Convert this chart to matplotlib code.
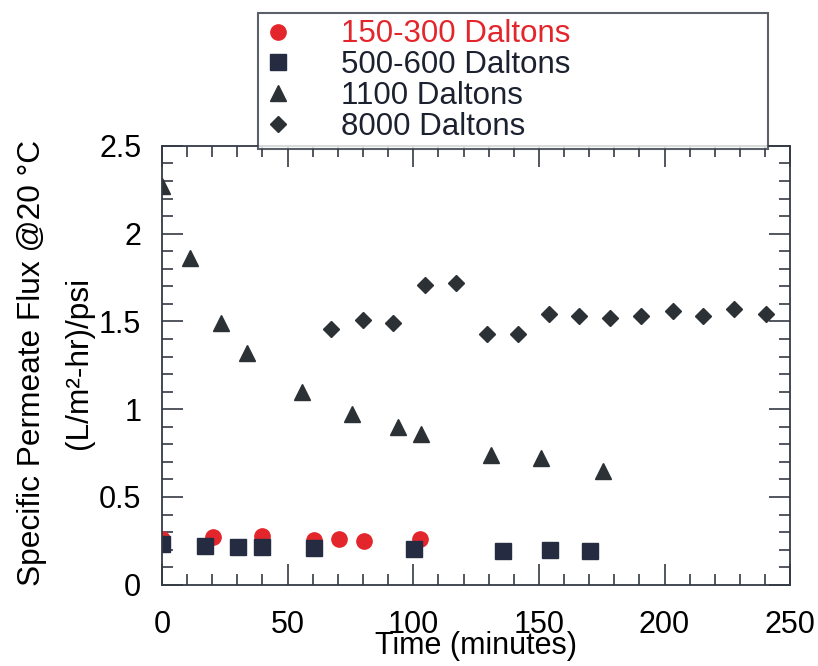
import matplotlib
matplotlib.use('Agg')
import matplotlib.pyplot as plt
from matplotlib.ticker import MultipleLocator

plt.rcParams['font.family'] = ['Liberation Sans', 'DejaVu Sans']

# 150-300 Daltons
t_150 = [0, 20.5, 40, 60.5, 70.5, 80.5, 102.7]
f_150 = [0.26, 0.27, 0.275, 0.255, 0.26, 0.25, 0.26]

# 500-600 Daltons
t_500 = [0, 17.2, 30.1, 40, 60.4, 100.4, 135.7, 154.6, 170.5]
f_500 = [0.233, 0.222, 0.216, 0.216, 0.21, 0.205, 0.193, 0.2, 0.193]

# 1100 Daltons
t_1100 = [0, 11.2, 23.6, 33.7, 55.9, 75.7, 93.8, 103, 130.9, 150.7, 175.6]
f_1100 = [2.27, 1.86, 1.49, 1.32, 1.10, 0.97, 0.90, 0.86, 0.74, 0.72, 0.65]

# 8000 Daltons
t_8000 = [67.3, 79.9, 92.1, 104.5, 117, 129.3, 141.6, 154, 166, 178.4,
          190.8, 203.3, 215.5, 227.7, 240.3]
f_8000 = [1.455, 1.51, 1.49, 1.71, 1.72, 1.43, 1.43, 1.545, 1.53, 1.52,
          1.53, 1.56, 1.53, 1.57, 1.54]

labels = ['150-300 Daltons', '500-600 Daltons', '1100 Daltons', '8000 Daltons']
yticks = [0, 0.5, 1, 1.5, 2, 2.5]
ytick_labels = ['0', '0.5', '1', '1.5', '2', '2.5']

red = '#e3262b'
navy = '#252c42'
dark = '#2b3135'
text_dark = '#1c2130'

fig = plt.figure(figsize=(8.18, 6.66), dpi=100)
ax = fig.add_axes([0.198, 0.122, 0.768, 0.659])

ax.plot(t_150, f_150, 'o', color=red, markersize=11, linestyle='none', label=labels[0])
ax.plot(t_500, f_500, 's', color=navy, markersize=11, linestyle='none', label=labels[1])
ax.plot(t_1100, f_1100, '^', color=dark, markersize=12, linestyle='none', label=labels[2])
ax.plot(t_8000, f_8000, 'D', color=dark, markersize=8.5, linestyle='none', label=labels[3])

ax.set_xlim(0, 250)
ax.set_ylim(0, 2.5)
ax.xaxis.set_major_locator(MultipleLocator(50))
ax.xaxis.set_minor_locator(MultipleLocator(10))
ax.set_yticks(yticks)
ax.set_yticklabels(ytick_labels)
ax.yaxis.set_minor_locator(MultipleLocator(0.1))

ax.tick_params(which='both', direction='in', top=True, right=True,
               colors='#333a44', labelcolor='black', width=1.2)
ax.tick_params(which='major', length=15, labelsize=22)
ax.tick_params(which='minor', length=8)
ax.tick_params(axis='x', which='major', pad=18)
ax.tick_params(axis='y', which='major', pad=15)
for s in ax.spines.values():
    s.set_color('#333a44')
    s.set_linewidth(1.3)

ax.set_xlabel('Time (minutes)', fontsize=22)
ax.xaxis.set_label_coords(0.5, -0.106)
ax.set_ylabel('Specific Permeate Flux @20 \u00b0C\n(L/m\u00b2-hr)/psi',
              fontsize=22.8, linespacing=1.75)
ax.yaxis.set_label_coords(-0.108, 0.505)

leg = fig.legend(loc='lower left', bbox_to_anchor=(0.315, 0.777, 0.624, 0.2),
                 mode='expand', fontsize=22.5, labelspacing=0.03,
                 handletextpad=1.58, borderpad=0.2, handlelength=0.9,
                 frameon=True, fancybox=False, borderaxespad=0,
                 labelcolor=[red, text_dark, text_dark, text_dark])
leg.get_frame().set_edgecolor('#333a44')
leg.get_frame().set_linewidth(1.5)

fig.savefig('out.png', dpi=100)
